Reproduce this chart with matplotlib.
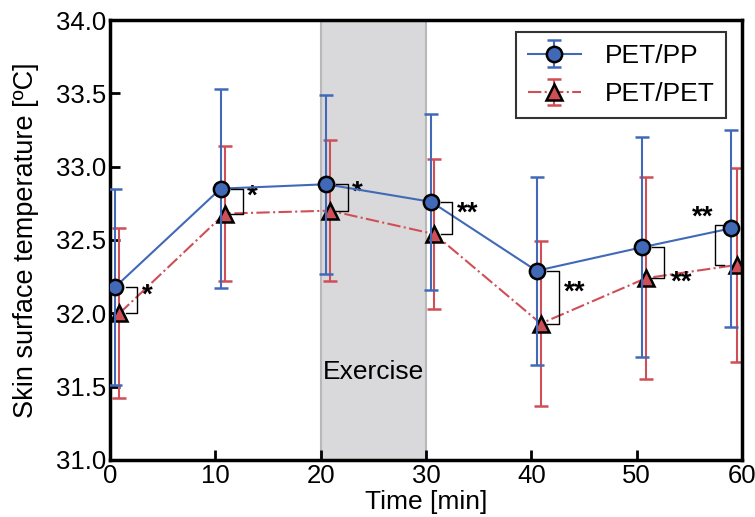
import matplotlib.pyplot as plt

plt.rcParams['font.family'] = ['Liberation Sans', 'DejaVu Sans']

# time points (PET/PET slightly offset to the right)
t_pp = [0.5, 10.5, 20.5, 30.5, 40.5, 50.5, 59.0]
t_pet = [0.9, 10.9, 20.9, 30.8, 40.9, 50.9, 59.5]

pp_mean = [32.18, 32.85, 32.88, 32.76, 32.29, 32.45, 32.58]
pp_err = [0.67, 0.68, 0.61, 0.60, 0.64, 0.75, 0.67]
pet_mean = [32.00, 32.68, 32.70, 32.54, 31.93, 32.24, 32.33]
pet_err = [0.58, 0.46, 0.48, 0.51, 0.56, 0.69, 0.66]

stars = ['*', '*', '*', '**', '**', '**', '**']

blue = '#4169b8'
red = '#cf4f57'

fig = plt.figure(figsize=(7.55, 5.17), dpi=100)
ax = fig.add_axes([0.1457, 0.1103, 0.837, 0.851])

# exercise period
ax.axvspan(20, 30, color='#d9d9db', ec='#b8b8b8', lw=1.5, zorder=0)
ax.text(25, 31.6, 'Exercise', ha='center', va='center', fontsize=19)

ax.errorbar(t_pp, pp_mean, yerr=pp_err, color=blue, lw=1.5, marker='o', ms=11,
            mfc=blue, mec='black', mew=1.8, capsize=5, elinewidth=1.5,
            capthick=1.5, label='PET/PP', zorder=3)
ax.errorbar(t_pet, pet_mean, yerr=pet_err, color=red, lw=1.5, ls='-.', marker='^',
            ms=11, mfc=red, mec='black', mew=1.8, capsize=5, elinewidth=1.5,
            capthick=1.5, label='PET/PET', zorder=2)

# significance brackets
star_kw = dict(ha='center', va='center', fontsize=20, fontweight='bold')
for i in range(len(t_pp)):
    top = pp_mean[i]
    bot = pet_mean[i]
    if i == 6:
        x0, x1 = t_pp[i] - 0.7, t_pp[i] - 1.6
        ax.plot([x0, x1, x1, x0], [top + 0.02, top + 0.02, bot, bot],
                color='black', lw=1, zorder=4)
        ax.text(x1 - 1.1, top + 0.07, stars[i], **star_kw)
        continue
    x0 = t_pet[i] + 0.6
    x1 = x0 + 1.1
    ax.plot([x0, x1, x1, x0], [top, top, bot, bot], color='black', lw=1, zorder=4)
    if i == 5:
        ax.text(x1 + 1.7, bot - 0.03, stars[i], **star_kw)
    else:
        ax.text(x1 + 0.9 + 0.6 * (len(stars[i]) - 1), (top + bot) / 2 + 0.03,
                stars[i], **star_kw)

ax.set_xlim(0, 60)
ax.set_ylim(31.0, 34.0)
ax.set_xticks(range(0, 61, 10))
ax.set_yticks([31.0, 31.5, 32.0, 32.5, 33.0, 33.5, 34.0])
ax.set_yticklabels(['31.0', '31.5', '32.0', '32.5', '33.0', '33.5', '34.0'])
ax.tick_params(direction='in', length=7, width=2, labelsize=18.5, pad=3)
for s in ax.spines.values():
    s.set_linewidth(2.5)

ax.set_xlabel('Time [min]', fontsize=19, labelpad=1)
ax.set_ylabel('Skin surface temperature [ºC]', fontsize=19.5, labelpad=12)

leg = ax.legend(loc='upper right', fontsize=19, fancybox=False, edgecolor='black',
                handlelength=2.0, handletextpad=0.9, borderpad=0.45,
                labelspacing=0.55, borderaxespad=0,
                bbox_to_anchor=(0.975, 0.973))
leg.get_frame().set_linewidth(1.5)

fig.savefig('out.png', dpi=100)
